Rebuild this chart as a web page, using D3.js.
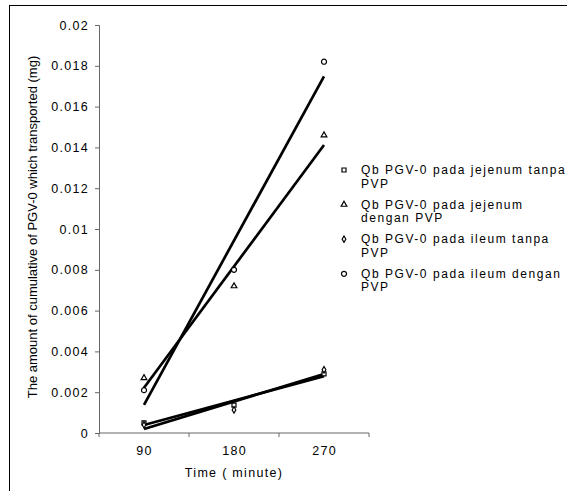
<!DOCTYPE html>
<html lang="en">
<head>
  <meta charset="UTF-8">
  <title>Cumulative PGV-0 transported</title>
  <script src="https://d3js.org/d3.v7.min.js"></script>
  <style>
    body { margin: 0; background: #fff; font-family: "Liberation Sans", Arial, sans-serif; }
    .tick-label { font-size: 12.5px; letter-spacing: 1.3px; fill: #000; }
    .axis-title { font-size: 13px; fill: #000; }
    .legend-text { font-size: 12px; letter-spacing: 1.55px; fill: #000; }
  </style>
</head>
<body>
  <svg width="567" height="491"></svg>

  <script>
    // Data
    const times = ["90", "180", "270"];
    const jejenumTanpa = [0.0005, 0.00137, 0.0029];
    const jejenumDengan = [0.0027, 0.0072, 0.0146];
    const ileumTanpa = [0.0004, 0.00113, 0.0031];
    const ileumDengan = [0.0021, 0.0080, 0.0182];
    const seriesNames = [
      ["Qb PGV-0 pada jejenum tanpa", "PVP"],
      ["Qb PGV-0 pada jejenum", "dengan PVP"],
      ["Qb PGV-0 pada ileum tanpa", "PVP"],
      ["Qb PGV-0 pada ileum dengan", "PVP"]
    ];
    const yTicks = [0, 0.002, 0.004, 0.006, 0.008, 0.01, 0.012, 0.014, 0.016, 0.018, 0.02];

    const symbols = [d3.symbolSquare, d3.symbolTriangle, d3.symbolDiamond, d3.symbolCircle];
    const symSizes = [16, 14, 12, 20];
    const series = [jejenumTanpa, jejenumDengan, ileumTanpa, ileumDengan];

    const svg = d3.select("svg");

    // outer frame
    svg.append("rect")
      .attr("x", 9.5).attr("y", 5.5)
      .attr("width", 600).attr("height", 600)
      .attr("fill", "none").attr("stroke", "#000").attr("stroke-width", 1);

    const plotL = 99, plotR = 369, plotT = 25, plotB = 433;

    const xBand = d3.scaleBand().domain(times).range([plotL, plotR]);
    const x = d3.scalePoint().domain(times).range([plotL, plotR]).padding(0.5);
    const y = d3.scaleLinear().domain([0, 0.02]).range([plotB, plotT]);

    // Y axis
    const yAxis = svg.append("g")
      .attr("transform", `translate(${plotL},0)`)
      .call(d3.axisLeft(y).tickValues(yTicks).tickSize(4).tickPadding(6)
        .tickFormat(d => String(+d.toFixed(3))));
    yAxis.attr("font-family", null).attr("font-size", null);
    yAxis.select(".domain").attr("stroke", "#666");
    yAxis.selectAll(".tick line").attr("stroke", "#666");
    yAxis.selectAll(".tick text").attr("class", "tick-label");

    // X axis: labels at category centers, ticks at band edges
    const xAxis = svg.append("g")
      .attr("transform", `translate(0,${plotB})`)
      .call(d3.axisBottom(x).tickSize(0).tickPadding(13));
    xAxis.attr("font-family", null).attr("font-size", null);
    xAxis.select(".domain").attr("stroke", "#666").attr("d", `M${plotL},0H${plotR}`);
    xAxis.selectAll(".tick text").attr("class", "tick-label");
    xAxis.selectAll(".edge")
      .data([plotL].concat(times.map(t => xBand(t) + xBand.bandwidth())))
      .enter().append("line")
      .attr("x1", d => d).attr("x2", d => d)
      .attr("y1", 0).attr("y2", 4)
      .attr("stroke", "#666");

    // Axis titles
    svg.append("text")
      .attr("class", "axis-title")
      .attr("transform", `translate(37,227) rotate(-90)`)
      .attr("text-anchor", "middle")
      .text("The amount of cumulative of PGV-0 which transported (mg)");

    svg.append("text")
      .attr("class", "tick-label")
      .attr("x", 234).attr("y", 477)
      .attr("text-anchor", "middle")
      .text("Time ( minute)");

    // Linear trendlines (least squares over category index)
    function trend(vals) {
      const n = vals.length, xs = vals.map((v, i) => i + 1);
      const mx = d3.mean(xs), my = d3.mean(vals);
      const b = d3.sum(xs, (xi, i) => (xi - mx) * (vals[i] - my)) / d3.sum(xs, xi => (xi - mx) ** 2);
      const a = my - b * mx;
      return [[times[0], a + b * 1], [times[n - 1], a + b * n]];
    }

    const line = d3.line().x(d => x(d[0])).y(d => y(d[1]));

    svg.selectAll(".trend")
      .data(series)
      .enter().append("path")
      .attr("class", "trend")
      .attr("d", d => line(trend(d)))
      .attr("fill", "none")
      .attr("stroke", "#000")
      .attr("stroke-width", 2.7);

    // Markers
    series.forEach((vals, si) => {
      svg.append("g").selectAll("path")
        .data(vals)
        .enter().append("path")
        .attr("transform", (d, i) => `translate(${x(times[i])},${y(d)})`)
        .attr("d", d3.symbol().type(symbols[si]).size(symSizes[si]))
        .attr("fill", "#fff")
        .attr("stroke", "#000")
        .attr("stroke-width", 1.2);
    });

    // Legend
    const legend = svg.append("g").attr("transform", "translate(344,170)");
    seriesNames.forEach((lines, i) => {
      const g = legend.append("g").attr("transform", `translate(0,${i * 34.6})`);
      g.append("path")
        .attr("d", d3.symbol().type(symbols[i]).size(symSizes[i]))
        .attr("fill", "#fff").attr("stroke", "#000").attr("stroke-width", 1.2);
      const t = g.append("text").attr("class", "legend-text").attr("x", 17).attr("y", 4);
      lines.forEach((l, j) => {
        t.append("tspan").attr("x", 17).attr("dy", j === 0 ? 0 : 13.5).text(l);
      });
    });
  </script>
</body>
</html>
